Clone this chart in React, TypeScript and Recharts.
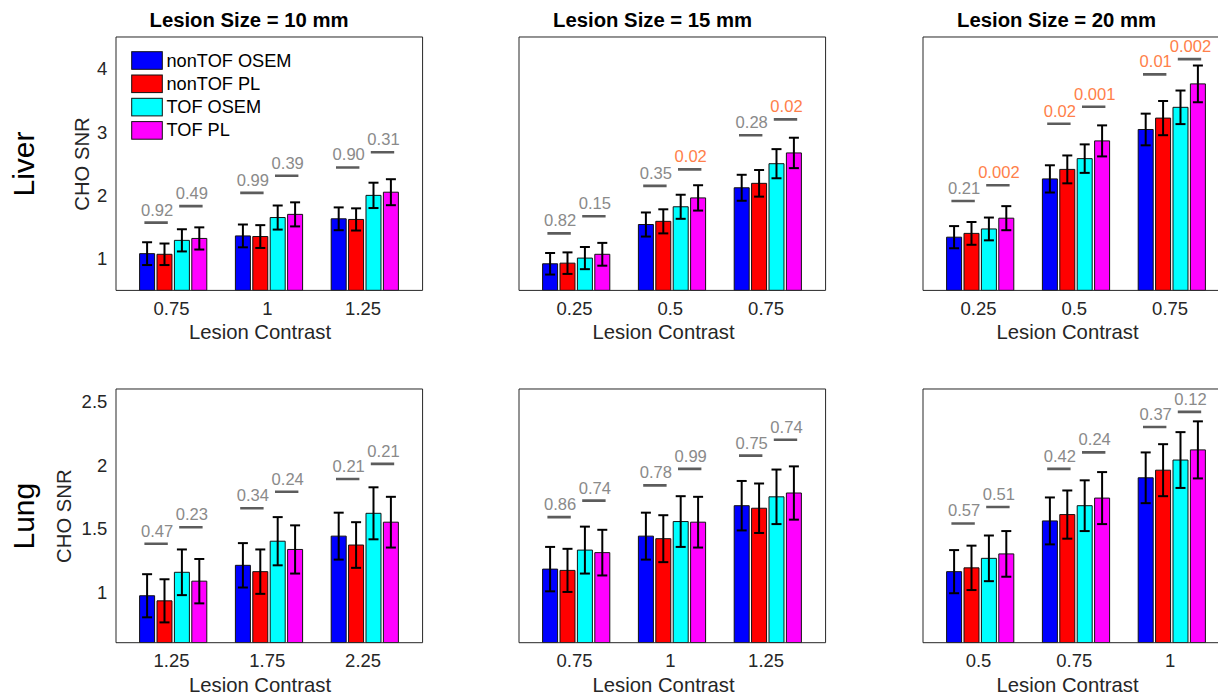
import React from 'react';
import { ComposedChart, Bar, ErrorBar, Line, XAxis, YAxis } from 'recharts';

// ---- series ----
const SERIES = ['nonTOF OSEM', 'nonTOF PL', 'TOF OSEM', 'TOF PL'];
const COLORS = ['#0000ff', '#ff0000', '#00ffff', '#ff00ff'];

// ---- Liver, lesion size 10 mm ----
const liver10Contrast = ['0.75', '1', '1.25'];
const liver10Snr = [
  [1.08, 1.36, 1.63],
  [1.07, 1.35, 1.62],
  [1.29, 1.65, 2.0],
  [1.32, 1.7, 2.05],
];
const liver10Err = [
  [0.18, 0.18, 0.18],
  [0.17, 0.18, 0.175],
  [0.175, 0.19, 0.2],
  [0.175, 0.19, 0.205],
];
const liver10Level = [
  [1.57, 2.04, 2.44],
  [1.83, 2.31, 2.68],
];
const liver10P = [
  ['0.92', '0.99', '0.90'],
  ['0.49', '0.39', '0.31'],
];

// ---- Liver, lesion size 15 mm ----
const liver15Contrast = ['0.25', '0.5', '0.75'];
const liver15Snr = [
  [0.92, 1.54, 2.12],
  [0.93, 1.59, 2.19],
  [1.01, 1.82, 2.5],
  [1.07, 1.96, 2.67],
];
const liver15Err = [
  [0.17, 0.19, 0.205],
  [0.17, 0.19, 0.21],
  [0.175, 0.19, 0.23],
  [0.18, 0.2, 0.24],
];
const liver15Level = [
  [1.4, 2.15, 2.95],
  [1.67, 2.41, 3.2],
];
const liver15P = [
  ['0.82', '0.35', '0.28'],
  ['0.15', '0.02', '0.02'],
];

// ---- Liver, lesion size 20 mm ----
const liver20Contrast = ['0.25', '0.5', '0.75'];
const liver20Snr = [
  [1.34, 2.26, 3.04],
  [1.4, 2.41, 3.22],
  [1.47, 2.58, 3.39],
  [1.64, 2.86, 3.76],
];
const liver20Err = [
  [0.175, 0.215, 0.25],
  [0.18, 0.22, 0.27],
  [0.18, 0.225, 0.265],
  [0.19, 0.245, 0.29],
];
const liver20Level = [
  [1.91, 3.13, 3.91],
  [2.16, 3.4, 4.15],
];
const liver20P = [
  ['0.21', '0.02', '0.01'],
  ['0.002', '0.001', '0.002'],
];

// ---- Lung, lesion size 10 mm ----
const lung10Contrast = ['1.25', '1.75', '2.25'];
const lung10Snr = [
  [0.97, 1.21, 1.44],
  [0.93, 1.16, 1.37],
  [1.155, 1.4, 1.62],
  [1.085, 1.335, 1.55],
];
const lung10Err = [
  [0.17, 0.175, 0.185],
  [0.17, 0.175, 0.18],
  [0.18, 0.19, 0.205],
  [0.175, 0.19, 0.2],
];
const lung10Level = [
  [1.38, 1.66, 1.89],
  [1.51, 1.79, 2.01],
];
const lung10P = [
  ['0.47', '0.34', '0.21'],
  ['0.23', '0.24', '0.21'],
];

// ---- Lung, lesion size 15 mm ----
const lung15Contrast = ['0.75', '1', '1.25'];
const lung15Snr = [
  [1.18, 1.44, 1.68],
  [1.17, 1.42, 1.66],
  [1.33, 1.555, 1.75],
  [1.31, 1.55, 1.78],
];
const lung15Err = [
  [0.175, 0.185, 0.195],
  [0.17, 0.185, 0.195],
  [0.185, 0.2, 0.215],
  [0.18, 0.2, 0.21],
];
const lung15Level = [
  [1.59, 1.84, 2.075],
  [1.72, 1.97, 2.2],
];
const lung15P = [
  ['0.86', '0.78', '0.75'],
  ['0.74', '0.99', '0.74'],
];

// ---- Lung, lesion size 20 mm ----
const lung20Contrast = ['0.5', '0.75', '1'];
const lung20Snr = [
  [1.16, 1.56, 1.9],
  [1.19, 1.61, 1.96],
  [1.265, 1.68, 2.04],
  [1.3, 1.74, 2.12],
];
const lung20Err = [
  [0.17, 0.185, 0.2],
  [0.175, 0.19, 0.205],
  [0.18, 0.2, 0.22],
  [0.18, 0.205, 0.225],
];
const lung20Level = [
  [1.54, 1.97, 2.3],
  [1.67, 2.1, 2.42],
];
const lung20P = [
  ['0.57', '0.42', '0.37'],
  ['0.51', '0.24', '0.12'],
];

// ---- axes ----
const LIVER_DOMAIN = [0.5, 4.5];
const LIVER_TICKS = [1, 2, 3, 4];
const LUNG_DOMAIN = [0.6, 2.6];
const LUNG_TICKS = [1, 1.5, 2, 2.5];
const SIZE_TITLES = ['Lesion Size = 10 mm', 'Lesion Size = 15 mm', 'Lesion Size = 20 mm'];
const ROW_NAMES = ['Liver', 'Lung'];
const Y_TITLE = 'CHO SNR';
const X_TITLE = 'Lesion Contrast';
const SIGNIFICANCE = 0.05;

// ---- layout ----
const FONT = '"Liberation Sans", Arial, Helvetica, sans-serif';
const AX = '#262626';
const PLOT_W = 306.6;
const COL_X = [115.7, 519.3, 923.3];
const ROW_Y = [37.3, 389.3];
const PLOT_H = [253.4, 253.7];
const YW = 60;
const MT = 10;
const MR = 4;
const XH = 30;
const PAD = 9.6;
const BAR_SIZE = 15;
const BAR_GAP = 2.4;
const PITCH = BAR_SIZE + BAR_GAP;

type Row = Record<string, string | number>;

function buildRows(
  contrast: string[],
  snr: number[][],
  err: number[][],
  level: number[][],
  p: string[][]
): Row[] {
  return contrast.map((c, i) => {
    const row: Row = { cat: c };
    snr.forEach((s, k) => {
      row[`s${k}`] = s[i];
      row[`e${k}`] = err[k][i];
    });
    level.forEach((l, k) => {
      row[`l${k}`] = l[i];
      row[`p${k}`] = p[k][i];
    });
    return row;
  });
}

// Comparison bracket between two neighbouring bars, with its p-value above it.
function Bracket(props: any) {
  const { cx, cy, shift, text } = props;
  if (cx == null || cy == null) return <g />;
  const x = cx + shift;
  const color = parseFloat(text) < SIGNIFICANCE ? '#ff7f4a' : '#8a8a8a';
  return (
    <g>
      <line x1={x - 11.7} x2={x + 11.7} y1={cy} y2={cy} stroke="#5c5c5c" strokeWidth={2.6} />
      <text x={x + 1} y={cy - 7} textAnchor="middle" fontSize={16.6} fill={color}>
        {text}
      </text>
    </g>
  );
}

interface PanelProps {
  rows: Row[];
  domain: number[];
  ticks: number[];
  col: number;
  row: number;
}

function Panel({ rows, domain, ticks, col, row }: PanelProps) {
  const showY = col === 0;
  const plotH = PLOT_H[row];
  const width = YW + PLOT_W + MR;
  const height = MT + plotH + XH;
  return (
    <div
      style={{
        position: 'absolute',
        left: COL_X[col] - YW,
        top: ROW_Y[row] - MT,
        width,
        height,
      }}
    >
      <ComposedChart
        width={width}
        height={height}
        data={rows}
        margin={{ top: MT, right: MR, bottom: 0, left: 0 }}
        barGap={BAR_GAP}
        style={{ width, height, maxWidth: 'none' }}
      >
        <XAxis
          xAxisId="b"
          dataKey="cat"
          orientation="bottom"
          height={XH}
          padding={{ left: PAD, right: PAD }}
          axisLine={{ stroke: AX }}
          tickLine={false}
          tickSize={6}
          tickMargin={5}
          tick={{ fontSize: 18.5, fill: AX, dx: -2 }}
          interval={0}
        />
        <XAxis
          xAxisId="bm"
          dataKey="cat"
          orientation="bottom"
          mirror
          padding={{ left: PAD, right: PAD }}
          axisLine={false}
          tick={false}
          tickSize={4}
          tickLine={{ stroke: AX }}
          interval={0}
        />
        <XAxis
          xAxisId="t"
          dataKey="cat"
          orientation="top"
          mirror
          padding={{ left: PAD, right: PAD }}
          axisLine={{ stroke: AX }}
          tick={false}
          tickSize={4}
          tickLine={{ stroke: AX }}
          interval={0}
        />
        <YAxis
          type="number"
          domain={domain}
          ticks={ticks}
          allowDataOverflow
          width={YW}
          axisLine={{ stroke: AX }}
          tickLine={false}
          tickSize={6}
          tickMargin={2.7}
          tick={showY ? { fontSize: 18.5, fill: AX } : false}
        />
        {showY && (
          <YAxis
            yAxisId="lm"
            type="number"
            orientation="left"
            mirror
            domain={domain}
            ticks={ticks}
            allowDataOverflow
            axisLine={false}
            tick={false}
            tickSize={4}
            tickLine={{ stroke: AX }}
          />
        )}
        <YAxis
          yAxisId="r"
          type="number"
          orientation="right"
          mirror
          domain={domain}
          ticks={ticks}
          allowDataOverflow
          axisLine={{ stroke: AX }}
          tick={false}
          tickSize={4}
          tickLine={showY ? { stroke: AX } : false}
        />
        {SERIES.map((name, k) => (
          <Bar
            key={name}
            name={name}
            dataKey={`s${k}`}
            xAxisId="b"
            fill={COLORS[k]}
            stroke="#111"
            strokeWidth={1}
            barSize={BAR_SIZE}
            isAnimationActive={false}
          >
            <ErrorBar dataKey={`e${k}`} width={5} strokeWidth={2} stroke="#000" isAnimationActive={false} />
          </Bar>
        ))}
        {[0, 1].map((k) => (
          <Line
            key={`l${k}`}
            dataKey={`l${k}`}
            xAxisId="b"
            stroke="none"
            activeDot={false}
            isAnimationActive={false}
            dot={(p: any) => (
              <Bracket
                key={`br${k}-${p.index}`}
                cx={p.cx}
                cy={p.cy}
                shift={k === 0 ? -PITCH : PITCH}
                text={p.payload[`p${k}`]}
              />
            )}
          />
        ))}
      </ComposedChart>
    </div>
  );
}

const PANELS = [
  { row: 0, col: 0, rows: buildRows(liver10Contrast, liver10Snr, liver10Err, liver10Level, liver10P) },
  { row: 0, col: 1, rows: buildRows(liver15Contrast, liver15Snr, liver15Err, liver15Level, liver15P) },
  { row: 0, col: 2, rows: buildRows(liver20Contrast, liver20Snr, liver20Err, liver20Level, liver20P) },
  { row: 1, col: 0, rows: buildRows(lung10Contrast, lung10Snr, lung10Err, lung10Level, lung10P) },
  { row: 1, col: 1, rows: buildRows(lung15Contrast, lung15Snr, lung15Err, lung15Level, lung15P) },
  { row: 1, col: 2, rows: buildRows(lung20Contrast, lung20Snr, lung20Err, lung20Level, lung20P) },
];

function Annotations() {
  const rowCenter = (r: number) => ROW_Y[r] + PLOT_H[r] / 2;
  const yTitleX = [88.5, 71];
  return (
    <svg
      width={1218}
      height={694}
      style={{ position: 'absolute', left: 0, top: 0, pointerEvents: 'none' }}
    >
      {SIZE_TITLES.map((t, c) => (
        <text
          key={t}
          x={COL_X[c] + PLOT_W / 2 - 20}
          y={26.5}
          textAnchor="middle"
          fontSize={20.3}
          fontWeight="bold"
          fill="#000"
        >
          {t}
        </text>
      ))}
      {ROW_NAMES.map((name, r) => (
        <text
          key={name}
          x={34}
          y={rowCenter(r)}
          transform={`rotate(-90 34 ${rowCenter(r)})`}
          textAnchor="middle"
          fontSize={30}
          fill="#000"
        >
          {name}
        </text>
      ))}
      {[0, 1].map((r) => (
        <text
          key={`yt${r}`}
          x={yTitleX[r]}
          y={rowCenter(r)}
          transform={`rotate(-90 ${yTitleX[r]} ${rowCenter(r)})`}
          textAnchor="middle"
          fontSize={20.3}
          fill={AX}
        >
          {Y_TITLE}
        </text>
      ))}
      {[0, 1].map((r) =>
        COL_X.map((x, c) => (
          <text
            key={`xt${r}${c}`}
            x={x + PLOT_W / 2 - 9}
            y={ROW_Y[r] + PLOT_H[r] + 48.5}
            textAnchor="middle"
            fontSize={20.3}
            fill={AX}
          >
            {X_TITLE}
          </text>
        ))
      )}
      {SERIES.map((name, k) => {
        const cy = 60.5 + k * 23.3;
        return (
          <g key={name}>
            <rect x={131.7} y={cy - 8.8} width={30.6} height={17.6} fill={COLORS[k]} stroke="#111" strokeWidth={1} />
            <text x={166.5} y={cy} dominantBaseline="central" fontSize={18.2} fill="#000">
              {name}
            </text>
          </g>
        );
      })}
    </svg>
  );
}

export default function App() {
  return (
    <div
      style={{
        position: 'absolute',
        left: 0,
        top: 0,
        width: 1218,
        height: 694,
        overflow: 'hidden',
        background: '#fff',
        fontFamily: FONT,
      }}
    >
      {PANELS.map((p) => (
        <Panel
          key={`${p.row}-${p.col}`}
          rows={p.rows}
          domain={p.row === 0 ? LIVER_DOMAIN : LUNG_DOMAIN}
          ticks={p.row === 0 ? LIVER_TICKS : LUNG_TICKS}
          col={p.col}
          row={p.row}
        />
      ))}
      <Annotations />
    </div>
  );
}
